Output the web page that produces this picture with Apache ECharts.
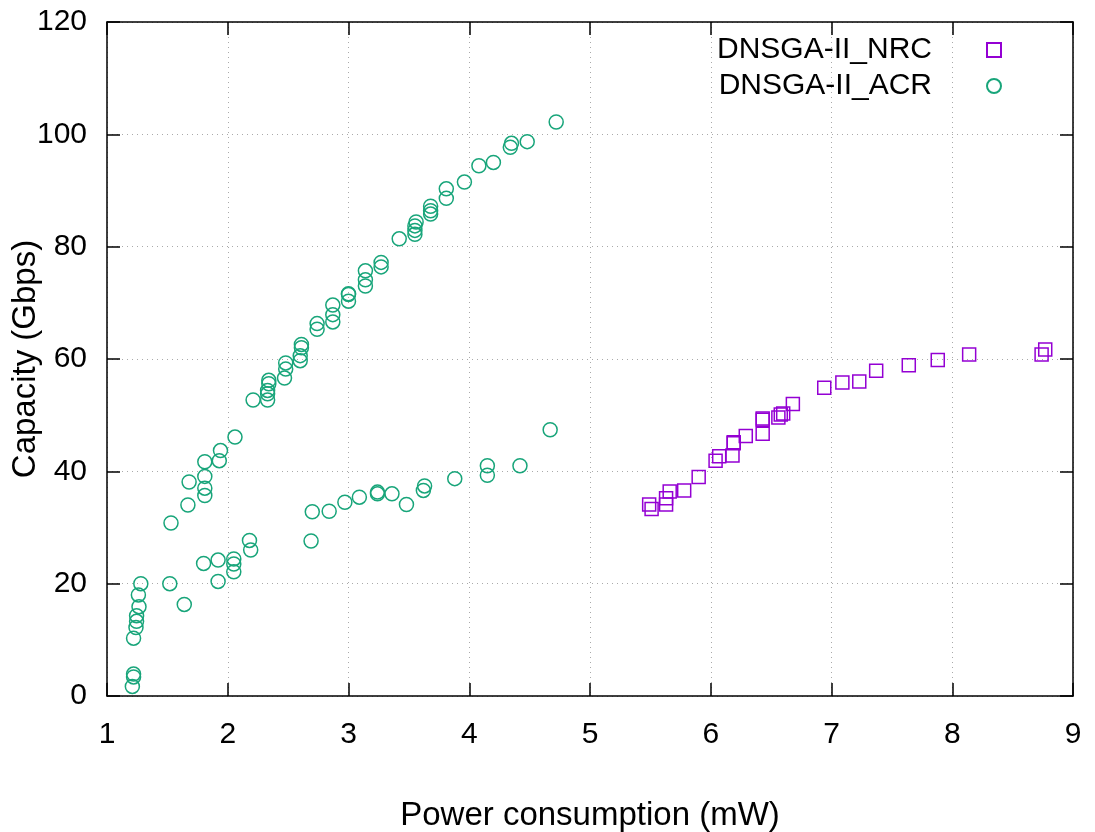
<!DOCTYPE html>
<html>
<head>
<meta charset="utf-8">
<script src="https://cdn.jsdelivr.net/npm/echarts@6/dist/echarts.min.js"></script>
<style>
html,body{margin:0;padding:0;background:#fff;}
#chart{width:1095px;height:832px;}
</style>
</head>
<body>
<div id="chart"></div>
<script>
const seriesNames = ['DNSGA-II_NRC', 'DNSGA-II_ACR'];
const xTicks = [1, 2, 3, 4, 5, 6, 7, 8, 9];
const yTicks = [0, 20, 40, 60, 80, 100, 120];

const nrcPower = [5.49, 5.51, 5.63, 5.63, 5.66, 5.78, 5.90, 6.04, 6.07, 6.18, 6.19, 6.19, 6.29, 6.43, 6.43, 6.43, 6.56, 6.58, 6.60, 6.68, 6.94, 7.09, 7.23, 7.37, 7.64, 7.88, 8.14, 8.74, 8.77];
const nrcCapacity = [34.1, 33.3, 34.1, 35.2, 36.4, 36.6, 39.0, 41.9, 42.7, 42.8, 45.0, 45.2, 46.3, 46.7, 49.2, 49.4, 49.6, 50.1, 50.3, 52.0, 54.9, 55.8, 56.0, 57.9, 58.9, 59.8, 60.8, 60.8, 61.7];

const acrPower = [1.21, 1.22, 1.22, 1.22, 1.24, 1.245, 1.245, 1.265, 1.26, 1.28,
  1.52, 1.64, 1.80, 1.92, 1.92, 2.05, 2.05, 2.05, 2.19, 2.18,
  1.53, 1.67, 1.68, 1.81, 1.81, 1.81, 1.81, 1.93, 1.94, 2.06,
  2.21, 2.33, 2.33, 2.33, 2.34, 2.34, 2.47, 2.48, 2.48, 2.60, 2.60, 2.61, 2.61,
  2.74, 2.74, 2.87, 2.87, 2.87, 3.00, 3.00, 3.00, 3.14, 3.14, 3.14, 3.27, 3.27, 3.42,
  3.55, 3.55, 3.55, 3.56, 3.68, 3.68, 3.68, 3.81, 3.81, 3.96, 4.08, 4.20, 4.34, 4.35, 4.48, 4.72,
  2.69, 2.70, 2.84, 2.97, 3.09, 3.24, 3.24, 3.36, 3.48, 3.62, 3.63, 3.88, 4.15, 4.15, 4.42, 4.67];
const acrCapacity = [1.7, 3.4, 3.9, 10.3, 12.2, 13.3, 14.3, 15.9, 18.0, 20.0,
  20.0, 16.3, 23.6, 24.2, 20.4, 24.4, 23.5, 22.1, 26.0, 27.7,
  30.8, 34.0, 38.1, 35.7, 37.0, 39.1, 41.7, 41.9, 43.7, 46.1,
  52.7, 52.7, 53.8, 54.4, 55.6, 56.2, 56.6, 58.2, 59.3, 59.7, 60.6, 62.0, 62.6,
  65.3, 66.3, 66.6, 67.9, 69.6, 70.3, 71.5, 71.6, 73.0, 74.1, 75.7, 76.4, 77.2, 81.4,
  82.2, 82.9, 83.7, 84.4, 85.8, 86.4, 87.2, 88.6, 90.3, 91.5, 94.4, 95.0, 97.7, 98.4, 98.7, 102.2,
  27.6, 32.8, 32.9, 34.5, 35.4, 36.0, 36.3, 36.0, 34.1, 36.6, 37.4, 38.7, 39.3, 41.0, 41.0, 47.4];

const FONT = '"Liberation Sans", Arial, sans-serif';
const pairs = (xs, ys) => xs.map((x, i) => [x, ys[i]]);

const chart = echarts.init(document.getElementById('chart'), null, {renderer: 'canvas'});

const baseX = {
  type: 'value', min: xTicks[0], max: xTicks[xTicks.length - 1], interval: 1,
  axisLine: {show: true, onZero: false, lineStyle: {color: '#000', width: 1.5}},
  axisTick: {show: true, inside: true, length: 13, lineStyle: {color: '#000', width: 1.5}}
};
const baseY = {
  type: 'value', min: yTicks[0], max: yTicks[yTicks.length - 1], interval: 20,
  axisLine: {show: true, onZero: false, lineStyle: {color: '#000', width: 1.5}},
  axisTick: {show: true, inside: true, length: 13, lineStyle: {color: '#000', width: 1.5}}
};

chart.setOption({
  backgroundColor: '#fff',
  animation: false,
  grid: {left: 107, right: 22, top: 22, bottom: 136, containLabel: false, outerBoundsMode: 'none'},
  legend: {
    data: seriesNames,
    orient: 'vertical',
    right: 88,
    top: 30,
    align: 'right',
    itemWidth: 14,
    itemHeight: 14,
    itemGap: 6,
    textStyle: {fontFamily: FONT, fontSize: 30, color: '#000', padding: [0, 50, 0, 0]}
  },
  xAxis: [
    Object.assign({}, baseX, {
      position: 'bottom',
      name: 'Power consumption (mW)',
      nameLocation: 'middle',
      nameGap: 103,
      nameMoveOverlap: false,
      nameTextStyle: {fontFamily: FONT, fontSize: 33, color: '#000'},
      axisLabel: {fontFamily: FONT, fontSize: 30, color: '#000', margin: 24},
      splitLine: {show: true, lineStyle: {color: '#aaaaaa', type: [1, 4], width: 1}}
    }),
    Object.assign({}, baseX, {
      position: 'top',
      axisLabel: {show: false},
      splitLine: {show: false}
    })
  ],
  yAxis: [
    Object.assign({}, baseY, {
      position: 'left',
      name: 'Capacity (Gbps)',
      nameLocation: 'middle',
      nameGap: 65,
      nameMoveOverlap: false,
      nameRotate: 90,
      nameTextStyle: {fontFamily: FONT, fontSize: 33, color: '#000'},
      axisLabel: {fontFamily: FONT, fontSize: 30, color: '#000', margin: 20},
      splitLine: {show: true, lineStyle: {color: '#aaaaaa', type: [1, 4], width: 1}}
    }),
    Object.assign({}, baseY, {
      position: 'right',
      axisLabel: {show: false},
      splitLine: {show: false}
    })
  ],
  series: [
    {
      name: seriesNames[0],
      type: 'scatter',
      symbol: 'rect',
      symbolSize: 13,
      data: pairs(nrcPower, nrcCapacity),
      itemStyle: {color: 'rgba(0,0,0,0)', borderColor: '#9400d3', borderWidth: 1.5, opacity: 1}
    },
    {
      name: seriesNames[1],
      type: 'scatter',
      symbol: 'circle',
      symbolSize: 14,
      data: pairs(acrPower, acrCapacity),
      itemStyle: {color: 'rgba(0,0,0,0)', borderColor: '#18a57a', borderWidth: 1.5, opacity: 1}
    }
  ]
});
</script>
</body>
</html>
